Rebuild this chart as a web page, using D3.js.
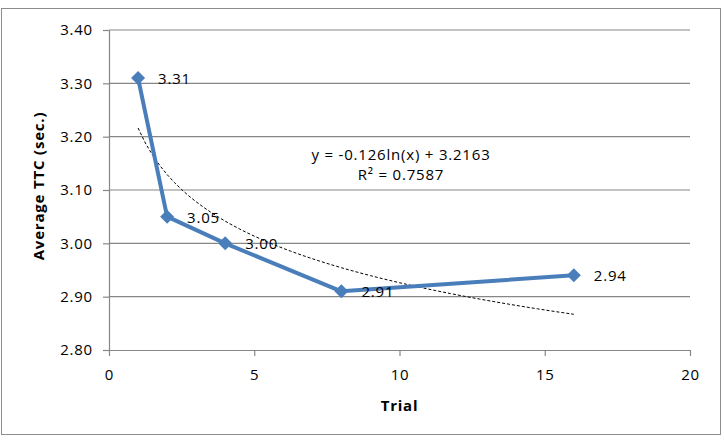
<!DOCTYPE html>
<html>
<head>
<meta charset="utf-8">
<script src="https://cdn.jsdelivr.net/npm/d3@7"></script>
<style>
  body { margin: 0; background: #fff; }
  text { font-family: "Open Sans", "DejaVu Sans", sans-serif; fill: #000; letter-spacing: 0.8px; }
</style>
</head>
<body>
<script>
var trials = [1, 2, 4, 8, 16];
var avgTTC = [3.31, 3.05, 3.00, 2.91, 2.94];
var dataLabels = ["3.31", "3.05", "3.00", "2.91", "2.94"];
var xTicks = [0, 5, 10, 15, 20];
var yTicks = [2.80, 2.90, 3.00, 3.10, 3.20, 3.30, 3.40];
var trendA = -0.126, trendB = 3.2163;
var trendText = ["y = -0.126ln(x) + 3.2163", "R² = 0.7587"];

let width = 724, height = 440;
let margin = {left: 109, right: 34, top: 30, bottom: 90};

let svg = d3.select("body").append("svg")
    .attr("width", width)
    .attr("height", height);

svg.append("rect")
    .attr("x", 1.5).attr("y", 8.5)
    .attr("width", 719).attr("height", 426)
    .attr("fill", "#fff").attr("stroke", "#8c8c8c");

let x = d3.scaleLinear().domain([0, 20]).range([margin.left, width - margin.right]);
let y = d3.scaleLinear().domain([2.8, 3.4]).range([height - margin.bottom, margin.top]);

// gridlines
svg.append("g")
    .selectAll("line")
    .data(yTicks.slice(1))
    .join("line")
        .attr("x1", x(0)).attr("x2", x(20))
        .attr("y1", d => y(d)).attr("y2", d => y(d))
        .attr("stroke", "#868686").attr("stroke-width", 1.2);

let xAxis = svg.append("g")
    .attr("transform", `translate(0,${y(2.8)})`)
    .call(d3.axisBottom(x).tickValues(xTicks).tickSize(6).tickSizeOuter(0).tickPadding(13));
let yAxis = svg.append("g")
    .attr("transform", `translate(${x(0)},0)`)
    .call(d3.axisLeft(y).tickValues(yTicks).tickFormat(d3.format(".2f")).tickSize(6).tickSizeOuter(0).tickPadding(10));

[xAxis, yAxis].forEach(a => {
    a.selectAll("path, line").attr("stroke", "#868686").attr("stroke-width", 1.2);
    a.selectAll("text").style("font-size", "15px").style("font-family", "Open Sans, sans-serif");
});

svg.append("text")
    .attr("x", x(10)).attr("y", 411)
    .attr("text-anchor", "middle")
    .style("font-size", "15px").style("font-weight", "bold")
    .text("Trial");

svg.append("text")
    .attr("transform", `translate(44,186) rotate(-90)`)
    .attr("text-anchor", "middle")
    .style("font-size", "15px").style("font-weight", "bold")
    .text("Average TTC (sec.)");

// trendline
let trendX = d3.range(1, 16.01, 0.25);
let trendLine = d3.line()
    .x(d => x(d))
    .y(d => y(trendA * Math.log(d) + trendB));
svg.append("path")
    .datum(trendX)
    .attr("d", trendLine)
    .attr("fill", "none")
    .attr("stroke", "#000")
    .attr("stroke-width", 1)
    .attr("stroke-dasharray", "3,2");

// series
let pts = trials.map((t, i) => ({x: t, y: avgTTC[i], label: dataLabels[i]}));
svg.append("path")
    .datum(pts)
    .attr("d", d3.line().x(d => x(d.x)).y(d => y(d.y)))
    .attr("fill", "none")
    .attr("stroke", "#4a7ebb")
    .attr("stroke-width", 4)
    .attr("stroke-linejoin", "round");

svg.append("g")
    .selectAll("path")
    .data(pts)
    .join("path")
        .attr("transform", d => `translate(${x(d.x)},${y(d.y)})`)
        .attr("d", "M0,-7L7,0L0,7L-7,0Z")
        .attr("fill", "#4a7ebb");

svg.append("g")
    .selectAll("text")
    .data(pts)
    .join("text")
        .attr("x", d => x(d.x) + 20)
        .attr("y", d => y(d.y) + 6)
        .style("font-size", "15px")
        .text(d => d.label);

svg.append("g")
    .selectAll("text")
    .data(trendText)
    .join("text")
        .attr("x", 401)
        .attr("y", (d, i) => 160 + i * 20)
        .attr("text-anchor", "middle")
        .style("font-size", "15px")
        .text(d => d);
</script>
</body>
</html>
